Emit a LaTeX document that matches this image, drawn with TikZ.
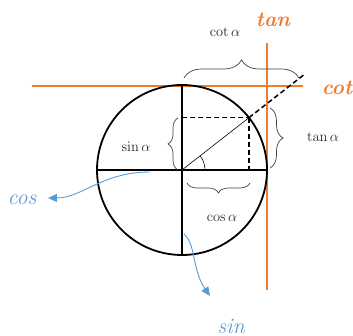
\documentclass[tikz,border=0pt]{standalone}
\usetikzlibrary{decorations.pathreplacing,arrows.meta}
\definecolor{trigorange}{RGB}{237,125,49}
\definecolor{trigblue}{RGB}{91,155,213}
\begin{document}
\begin{tikzpicture}[x=1pt, y=1pt,
  axis/.style={line width=1.5pt},
  dashline/.style={line width=1.5pt, dash pattern=on 5pt off 3pt},
  curly/.style={decorate, decoration={brace, amplitude=#1}, draw=black!75, line width=0.7pt},
  tangline/.style={color=trigorange, line width=1.2pt},
  bluearrow/.style={color=trigblue, line width=0.9pt, -{Triangle[length=9pt, width=8pt]}},
  mathlbl/.style={text=black!85, font=\fontsize{14}{16}\selectfont},
  orangelbl/.style={text=trigorange, font=\fontsize{21}{24}\selectfont\bfseries\itshape},
  bluelbl/.style={text=trigblue, font=\fontsize{22}{25}\selectfont\itshape}]
\useasboundingbox (-182,-166) rectangle (171,170);
\coordinate (O) at (0,0);
\coordinate (P) at (38:85);
\coordinate (E) at (38:154);
\coordinate (hl) at (-150,84);
\coordinate (hr) at (121,84);
\coordinate (vt) at (85,127);
\coordinate (vb) at (85,-120);
\draw[tangline] (hl) -- (hr);
\draw[tangline] (vt) -- (vb);
\draw[line width=1.8pt] (O) circle[radius=85];
\draw[axis] (-85,0) -- (85,0);
\draw[axis] (0,84) -- (0,-85);
\draw[line width=0.6pt] (O) -- (P);
\draw[line width=0.6pt] (23,0) arc[start angle=0, end angle=38, radius=23];
\draw[dashline] (O |- P) -- (P);
\draw[dashline] (P) -- (P |- O);
\draw[dashline] (P) -- (E);
\draw[curly=10pt] (-4,0) -- (-4,52);
\draw[curly=10pt] (68,-13) -- (5,-13);
\draw[curly=13pt] (88,62) -- (88,2);
\draw[curly=18pt] (2,92) -- (117,92);
\node[mathlbl] (cotval) at (43,138) {$\cot\alpha$};
\node[mathlbl] (tanval) at (141,33) {$\tan\alpha$};
\node[mathlbl] (sinval) at (-46,23) {$\sin\alpha$};
\node[mathlbl] (cosval) at (40,-48) {$\cos\alpha$};
\node[orangelbl] (tanlbl) at (91,150) {tan};
\node[orangelbl] (cotlbl) at (155,82) {cot};
\node[bluelbl] (coslbl) at (-160,-30) {cos};
\node[bluelbl] (sinlbl) at (49,-156) {sin};
\coordinate (cosfrom) at (-32,-2);
\coordinate (costip) at (-134,-28);
\coordinate (sinfrom) at (2,-64);
\coordinate (sintip) at (28,-126);
\draw[bluearrow] (cosfrom) .. controls (-80,-2) and (-100,-28) .. (costip);
\draw[bluearrow] (sinfrom) .. controls (14,-74) and (10,-100) .. (sintip);
\end{tikzpicture}
\end{document}
